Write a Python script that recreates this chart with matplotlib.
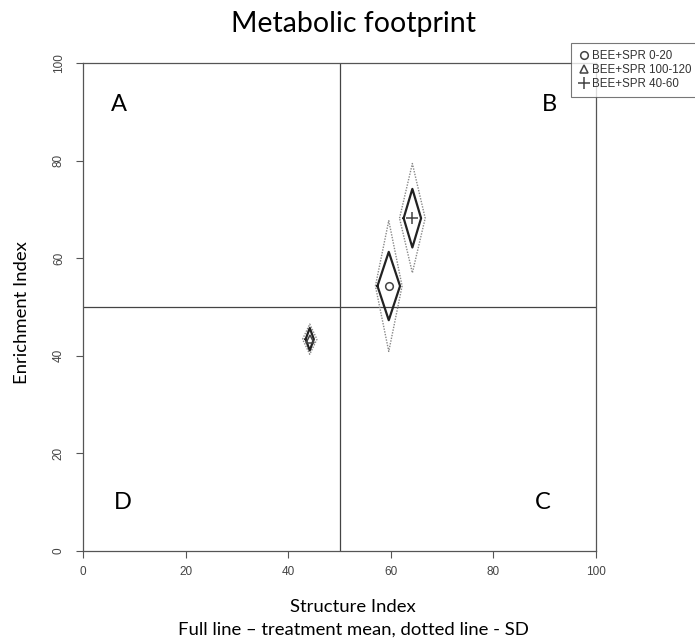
import matplotlib
matplotlib.use('Agg')
import matplotlib.pyplot as plt

# treatment data
labels = ['BEE+SPR 0-20', 'BEE+SPR 100-120', 'BEE+SPR 40-60']
markers = ['o', '^', '+']
si_mean = [59.6, 44.2, 64.2]
ei_mean = [54.3, 43.4, 68.2]
si_half = [2.2, 0.8, 1.7]     # full diamond, x half width
ei_half = [7.0, 2.3, 6.0]     # full diamond, y half height
si_sd = [2.6, 1.4, 2.5]       # dotted diamond, x half width
ei_sd = [13.4, 3.1, 11.2]     # dotted diamond, y half height

quad_letters = ['A', 'B', 'C', 'D']
quad_x = [7.0, 91.0, 89.7, 7.8]
quad_y = [91.4, 91.4, 10.0, 10.0]

ticks = [0, 20, 40, 60, 80, 100]

text_font = ['Lato', 'DejaVu Sans']
tick_font = ['Liberation Sans', 'DejaVu Sans']


def diamond(x, y, dx, dy):
    xs = [x - dx, x, x + dx, x, x - dx]
    ys = [y, y + dy, y, y - dy, y]
    return xs, ys


fig = plt.figure(figsize=(6.95, 6.41), dpi=100)
ax = fig.add_axes([0.1194, 0.1404, 0.7382, 0.7613])

ax.set_xlim(0, 100)
ax.set_ylim(0, 100)

# quadrant lines
ax.axvline(50, color='#444444', lw=0.9)
ax.axhline(50, color='#444444', lw=0.9)

for i in range(len(labels)):
    xs, ys = diamond(si_mean[i], ei_mean[i], si_sd[i], ei_sd[i])
    ax.plot(xs, ys, color='#888888', lw=1.0, linestyle=(0, (1.0, 1.0)))
    xs, ys = diamond(si_mean[i], ei_mean[i], si_half[i], ei_half[i])
    ax.plot(xs, ys, color='#222222', lw=1.6)
    ax.plot(si_mean[i], ei_mean[i], marker=markers[i], color='#444444',
            mfc='none', ms=5.5 if markers[i] != '+' else 8, mew=1.1,
            linestyle='none', label=labels[i])

for k in range(len(quad_letters)):
    ax.text(quad_x[k], quad_y[k], quad_letters[k], fontsize=17,
            family=text_font, ha='center', va='center', color='black')

for s in ax.spines.values():
    s.set_color('#555555')
    s.set_linewidth(0.9)

ax.set_xticks(ticks)
ax.set_yticks(ticks)
ax.tick_params(direction='out', length=5, color='#555555', labelcolor='#444444',
               labelsize=8.5)
for t in ax.get_xticklabels():
    t.set_family(tick_font)
for t in ax.get_yticklabels():
    t.set_family(tick_font)
    t.set_rotation(90)
    t.set_va('center')
ax.tick_params(axis='x', pad=6)
ax.tick_params(axis='y', pad=8)

fig.text(0.508, 0.962, 'Metabolic footprint', ha='center', va='center',
         fontsize=20.5, family=text_font)
fig.text(0.508, 0.053, 'Structure Index', ha='center', va='center',
         fontsize=13.3, family=text_font)
fig.text(0.508, 0.017, 'Full line \u2013 treatment mean, dotted line - SD',
         ha='center', va='center', fontsize=13.3, family=text_font)
fig.text(0.032, 0.513, 'Enrichment Index', ha='center', va='center',
         rotation=90, fontsize=13.3, family=text_font)

leg = ax.legend(loc='upper left', bbox_to_anchor=(0.951, 1.04), frameon=True,
                fancybox=False, prop={'family': tick_font, 'size': 8.3},
                handletextpad=0.25, borderpad=0.6, labelspacing=0.15,
                handlelength=1.0, borderaxespad=0)
leg.get_frame().set_edgecolor('#555555')
leg.get_frame().set_linewidth(0.8)
for t in leg.get_texts():
    t.set_color('#333333')

fig.savefig('out.png', dpi=100)
